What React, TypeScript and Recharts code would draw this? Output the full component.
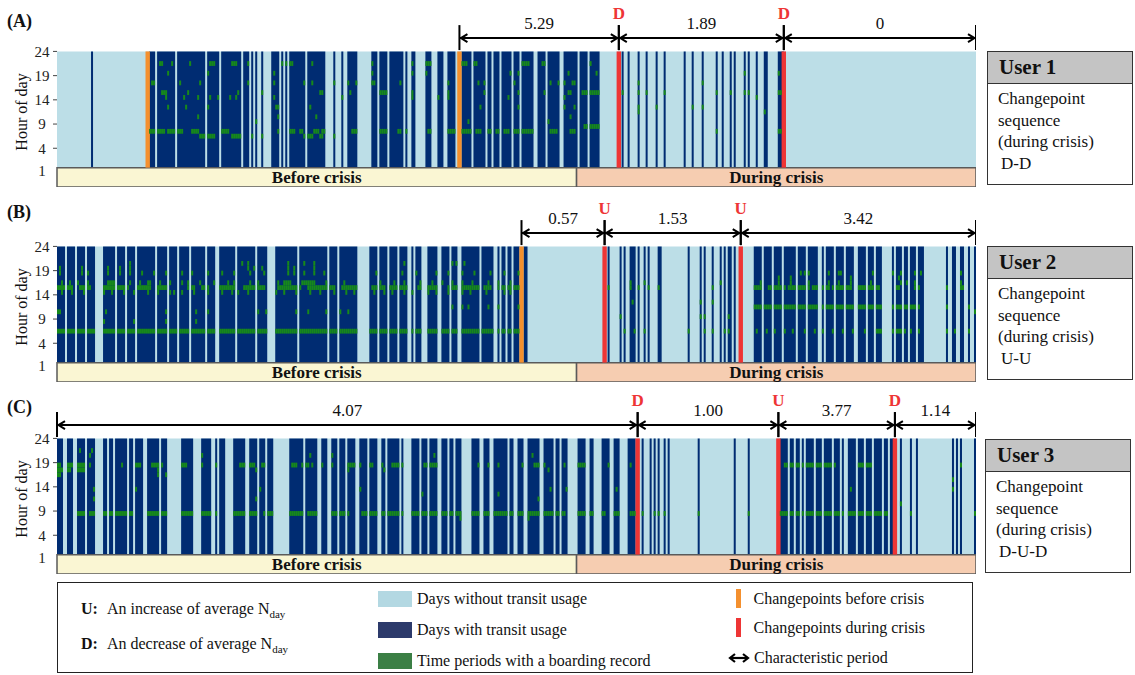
import React from "react";
import { ComposedChart, Area, Scatter, XAxis, YAxis, ReferenceArea, ReferenceLine } from "recharts";

type Run = [number, number];
type Rec = [number, number, number]; // [hour, fromDay, toDay]
type Changepoint = { day: number; phase: "before" | "during"; kind?: "U" | "D" };
type Period = { from: number; to: number; label: string };

const DAYS = 459;
const CRISIS_DAY = 259.5;
const HOUR_TICKS = [1, 4, 9, 14, 19, 24];
const PHASES = [
  { name: "Before crisis", from: 0, to: CRISIS_DAY, fill: "#faf6d3" },
  { name: "During crisis", from: CRISIS_DAY, to: DAYS, fill: "#f6cdb1" },
];

const LIGHT = "#bcdee7";
const NAVY = "#002c72";
const GREEN = "#17891a";
const ORANGE = "#f4902e";
const RED = "#ee3535";
const SERIF = '"Liberation Serif", "Times New Roman", serif';

// ---- user 1 ----
const u1Usage: Run[] = [
  [17, 17], [46, 48], [50, 58], [60, 73], [75, 80], [82, 91], [93, 95], [97, 97], [99, 99], [102, 102],
  [107, 110], [112, 112], [114, 114], [116, 123], [125, 133], [138, 138], [142, 142], [145, 149],
  [157, 159], [161, 164], [166, 172], [174, 174], [177, 178], [184, 186], [190, 192], [195, 198],
  [202, 206], [208, 213], [215, 216], [218, 220], [222, 226], [228, 230], [232, 237], [240, 243],
  [245, 250], [253, 259], [261, 264], [266, 270], [282, 282], [285, 285], [290, 290], [294, 294],
  [299, 299], [303, 303], [313, 313], [317, 317], [322, 322], [329, 329], [332, 332], [336, 336],
  [338, 338], [343, 343], [345, 345], [349, 349], [353, 354], [360, 362],
];
const u1Records: Rec[] = [
  [8, 46, 53], [8, 55, 58], [8, 60, 62], [8, 67, 70], [8, 82, 85], [8, 110, 110], [8, 116, 118], [8, 121, 122],
  [8, 128, 130], [8, 132, 133], [8, 147, 149], [8, 161, 164], [8, 170, 171], [8, 174, 174], [8, 185, 186],
  [8, 195, 198], [8, 202, 206], [8, 209, 211], [8, 215, 216], [8, 219, 220], [8, 223, 225], [8, 228, 230],
  [8, 232, 237], [8, 246, 249], [8, 256, 258], [8, 329, 329], [8, 360, 361],
  [9, 263, 264], [9, 266, 270],
  [7, 71, 78], [7, 87, 91], [7, 97, 97], [7, 102, 102], [7, 123, 127], [7, 131, 132], [7, 138, 138],
  [22, 51, 52], [22, 57, 57], [22, 66, 66], [22, 76, 78], [22, 87, 89], [22, 95, 95], [22, 112, 112],
  [22, 114, 114], [22, 116, 117], [22, 127, 127], [22, 157, 157], [22, 177, 177], [22, 184, 186],
  [22, 202, 204], [22, 208, 209], [22, 232, 235], [22, 242, 243], [22, 266, 266],
  [20, 55, 55], [20, 75, 75], [20, 108, 108], [20, 157, 157], [20, 177, 177], [20, 184, 184], [20, 226, 226],
  [20, 230, 230], [20, 255, 255], [20, 269, 269], [20, 343, 343], [20, 360, 360],
  [18, 47, 48], [18, 61, 61], [18, 71, 71], [18, 95, 95], [18, 108, 108], [18, 123, 123], [18, 127, 127],
  [18, 138, 138], [18, 145, 145], [18, 149, 149], [18, 157, 158], [18, 171, 171], [18, 195, 195],
  [18, 210, 210], [18, 213, 213], [18, 228, 228], [18, 246, 246], [18, 250, 250], [18, 253, 253],
  [18, 257, 258], [18, 290, 290], [18, 322, 322],
  [16, 52, 54], [16, 65, 65], [16, 90, 90], [16, 102, 102], [16, 131, 132], [16, 146, 146], [16, 161, 164],
  [16, 177, 177], [16, 195, 195], [16, 213, 213], [16, 230, 230], [16, 243, 243], [16, 255, 256],
  [16, 262, 270], [16, 282, 282], [16, 290, 290], [16, 294, 294], [16, 303, 303], [16, 329, 329],
  [16, 336, 336], [16, 343, 343], [16, 345, 345], [16, 360, 361],
  [15, 54, 54], [15, 63, 63], [15, 70, 70], [15, 76, 76], [15, 80, 80], [15, 86, 86], [15, 89, 89],
  [15, 108, 108], [15, 142, 142], [15, 177, 177], [15, 190, 190], [15, 195, 195], [15, 225, 225],
  [15, 253, 253], [15, 349, 349],
  [13, 55, 55], [13, 64, 64], [13, 75, 75], [13, 109, 110], [13, 126, 126], [13, 211, 211], [13, 230, 230],
  [13, 253, 253], [13, 258, 258], [13, 290, 290], [13, 299, 299], [13, 317, 317], [13, 322, 322],
  [12, 290, 290], [12, 353, 353],
  [11, 70, 70], [11, 110, 110], [11, 129, 129], [11, 165, 165], [11, 256, 256],
  [10, 99, 99], [10, 205, 205], [10, 245, 245],
];
const u1Changepoints: Changepoint[] = [
  { day: 45.3, phase: "before" },
  { day: 201, phase: "before" },
  { day: 280.6, phase: "during", kind: "D" },
  { day: 363, phase: "during", kind: "D" },
];
const u1Periods: Period[] = [
  { from: 201, to: 280.6, label: "5.29" },
  { from: 280.6, to: 363, label: "1.89" },
  { from: 363, to: DAYS, label: "0" },
];

// ---- user 2 ----
const u2Usage: Run[] = [
  [0, 3], [5, 8], [10, 13], [15, 18], [23, 28], [30, 33], [35, 38], [40, 48], [50, 54], [56, 59], [61, 65],
  [67, 73], [75, 78], [81, 88], [90, 98], [100, 104], [109, 119], [121, 134], [136, 139], [141, 149],
  [156, 159], [161, 164], [166, 169], [171, 174], [177, 177], [179, 181], [185, 189], [192, 195],
  [197, 199], [202, 210], [212, 217], [220, 220], [222, 223], [225, 226], [228, 230], [233, 234],
  [275, 275], [281, 281], [283, 283], [286, 288], [290, 290], [293, 293], [295, 295], [300, 301],
  [315, 315], [321, 321], [323, 323], [327, 327], [331, 331], [333, 333], [335, 336], [338, 338],
  [348, 351], [353, 356], [358, 361], [363, 368], [370, 373], [375, 379], [382, 382], [384, 387],
  [389, 392], [394, 397], [400, 403], [405, 407], [409, 411], [417, 417], [419, 421], [423, 424],
  [426, 428], [430, 432], [444, 444], [447, 448], [451, 452], [455, 455], [458, 458],
];
const u2Records: Rec[] = [
  [7, 0, 98], [7, 100, 104], [7, 109, 149], [7, 156, 230], [7, 283, 283], [7, 288, 288], [7, 293, 293],
  [7, 315, 315], [7, 323, 323], [7, 327, 327], [7, 333, 333], [7, 335, 335], [7, 349, 349], [7, 354, 354],
  [7, 358, 358], [7, 363, 363], [7, 367, 367], [7, 373, 373], [7, 378, 378], [7, 382, 382], [7, 387, 387],
  [7, 392, 392], [7, 397, 397], [7, 403, 403], [7, 409, 411], [7, 417, 417], [7, 419, 423], [7, 426, 426],
  [7, 430, 430], [7, 444, 444], [7, 448, 448], [7, 455, 455],
  [16, 0, 7], [16, 11, 16], [16, 20, 35], [16, 40, 46], [16, 50, 55], [16, 65, 68], [16, 72, 75],
  [16, 81, 88], [16, 93, 103], [16, 110, 121], [16, 125, 138], [16, 142, 150], [16, 157, 163],
  [16, 166, 176], [16, 180, 190], [16, 195, 205], [16, 206, 210], [16, 213, 216], [16, 220, 230],
  [16, 275, 275], [16, 286, 286], [16, 290, 290], [16, 295, 295], [16, 300, 300], [16, 327, 327],
  [16, 348, 351], [16, 355, 363], [16, 365, 375], [16, 377, 385], [16, 387, 396], [16, 400, 410],
  [16, 418, 420], [16, 428, 430], [16, 444, 444], [16, 451, 452],
  [17, 2, 2], [17, 6, 6], [17, 10, 10], [17, 15, 15], [17, 25, 28], [17, 36, 36], [17, 41, 41], [17, 45, 46],
  [17, 51, 51], [17, 56, 56], [17, 62, 62], [17, 65, 65], [17, 71, 71], [17, 78, 78], [17, 85, 85],
  [17, 88, 88], [17, 96, 96], [17, 100, 100], [17, 110, 110], [17, 113, 116], [17, 122, 128], [17, 134, 134],
  [17, 143, 143], [17, 161, 161], [17, 168, 168], [17, 173, 173], [17, 181, 181], [17, 187, 187],
  [17, 192, 192], [17, 197, 197], [17, 202, 202], [17, 207, 207], [17, 215, 215], [17, 220, 220],
  [17, 226, 226], [17, 286, 286], [17, 293, 293], [17, 331, 331], [17, 351, 351], [17, 360, 360],
  [17, 366, 366], [17, 375, 375], [17, 385, 385], [17, 390, 390], [17, 396, 396], [17, 406, 406],
  [17, 421, 421], [17, 424, 424], [17, 428, 428], [17, 451, 451],
  [15, 2, 2], [15, 7, 7], [15, 13, 13], [15, 23, 23], [15, 27, 27], [15, 33, 33], [15, 38, 38], [15, 45, 45],
  [15, 50, 50], [15, 56, 56], [15, 58, 58], [15, 62, 62], [15, 68, 68], [15, 75, 75], [15, 82, 82],
  [15, 87, 87], [15, 90, 90], [15, 95, 95], [15, 109, 109], [15, 113, 113], [15, 119, 119], [15, 126, 126],
  [15, 131, 131], [15, 138, 138], [15, 144, 144], [15, 148, 148], [15, 158, 158], [15, 163, 163],
  [15, 167, 167], [15, 173, 173], [15, 177, 177], [15, 185, 185], [15, 189, 189], [15, 195, 195],
  [15, 202, 202], [15, 206, 206], [15, 214, 214], [15, 223, 223], [15, 226, 226],
  [19, 1, 1], [19, 12, 12], [19, 15, 15], [19, 25, 25], [19, 31, 31], [19, 36, 36], [19, 42, 42], [19, 48, 48],
  [19, 54, 54], [19, 62, 62], [19, 67, 67], [19, 75, 75], [19, 82, 82], [19, 88, 88], [19, 96, 96],
  [19, 103, 103], [19, 115, 115], [19, 118, 118], [19, 123, 123], [19, 128, 128], [19, 133, 133],
  [19, 159, 159], [19, 172, 172], [19, 179, 179], [19, 189, 189], [19, 195, 195], [19, 202, 202],
  [19, 208, 208], [19, 216, 216], [19, 223, 223], [19, 230, 230], [19, 371, 371], [19, 373, 373],
  [19, 375, 375], [19, 385, 385], [19, 390, 391], [19, 407, 407], [19, 417, 417], [19, 421, 421],
  [19, 428, 428], [19, 431, 431], [19, 451, 451],
  [20, 1, 1], [20, 12, 12], [20, 25, 25], [20, 31, 31], [20, 36, 36], [20, 95, 95], [20, 98, 98],
  [20, 102, 102], [20, 115, 115], [20, 118, 118], [20, 128, 128],
  [21, 36, 36], [21, 92, 92], [21, 95, 95], [21, 115, 115], [21, 123, 123], [21, 128, 128], [21, 173, 173],
  [21, 197, 197], [21, 199, 199], [21, 203, 203],
  [18, 360, 360], [18, 366, 366], [18, 396, 396], [18, 420, 420],
  [12, 197, 197], [12, 202, 202], [12, 205, 205], [12, 215, 215], [12, 220, 220], [12, 230, 230],
  [12, 348, 411], [12, 417, 430], [12, 444, 446], [12, 455, 455],
  [13, 287, 287], [13, 321, 321], [13, 327, 327],
  [11, 0, 1], [11, 24, 24], [11, 54, 54], [11, 69, 69], [11, 75, 75], [11, 100, 100], [11, 104, 104],
  [11, 119, 119], [11, 125, 125], [11, 134, 134], [11, 141, 141], [11, 145, 145], [11, 458, 458],
  [10, 281, 281], [10, 321, 321], [10, 323, 323], [10, 335, 335],
  [9, 23, 23], [9, 38, 38], [9, 54, 54], [9, 69, 69],
];
const u2Changepoints: Changepoint[] = [
  { day: 232, phase: "before" },
  { day: 273.5, phase: "during", kind: "U" },
  { day: 341.5, phase: "during", kind: "U" },
];
const u2Periods: Period[] = [
  { from: 232, to: 273.5, label: "0.57" },
  { from: 273.5, to: 341.5, label: "1.53" },
  { from: 341.5, to: DAYS, label: "3.42" },
];

// ---- user 3 ----
const u3Usage: Run[] = [
  [0, 2], [5, 7], [10, 13], [15, 18], [23, 24], [26, 27], [29, 31], [32, 34], [36, 37], [39, 42], [45, 50],
  [52, 54], [62, 67], [72, 76], [79, 79], [81, 83], [88, 93], [96, 99], [101, 103], [105, 107], [116, 122],
  [124, 129], [132, 134], [137, 139], [141, 143], [145, 148], [151, 154], [156, 159], [162, 163],
  [165, 170], [172, 172], [177, 180], [182, 184], [186, 189], [192, 194], [196, 197], [199, 201],
  [207, 210], [213, 215], [218, 224], [226, 227], [230, 232], [235, 240], [243, 247], [249, 250],
  [252, 254], [260, 263], [266, 267], [272, 275], [278, 280], [285, 288],
  [292, 292], [296, 296], [298, 298], [300, 300], [303, 303], [305, 305], [320, 320], [338, 338], [345, 345],
  [361, 364], [366, 367], [369, 370], [372, 372], [374, 377], [379, 381], [383, 386], [388, 390],
  [392, 392], [395, 398], [400, 402], [404, 406], [408, 411], [413, 414], [416, 417],
  [421, 421], [426, 426], [429, 429], [447, 447], [449, 449], [451, 451], [458, 458],
];
const u3Records: Rec[] = [
  [9, 10, 13], [9, 16, 18], [9, 23, 38], [9, 45, 54], [9, 62, 67], [9, 72, 79], [9, 88, 99], [9, 103, 107],
  [9, 116, 122], [9, 125, 129], [9, 136, 145], [9, 152, 172], [9, 177, 253], [9, 255, 273], [9, 276, 280],
  [9, 286, 295], [9, 298, 300], [9, 303, 303], [9, 320, 320], [9, 345, 345], [9, 361, 415], [9, 426, 426],
  [9, 458, 458],
  [8, 201, 201], [8, 204, 204], [8, 235, 235],
  [19, 0, 1], [19, 5, 7], [19, 10, 13], [19, 16, 16], [19, 32, 32], [19, 39, 41], [19, 47, 50], [19, 52, 52],
  [19, 62, 64], [19, 72, 72], [19, 79, 79], [19, 91, 93], [19, 96, 98], [19, 102, 103], [19, 117, 119],
  [19, 122, 122], [19, 124, 125], [19, 127, 127], [19, 132, 132], [19, 137, 137], [19, 145, 148],
  [19, 151, 151], [19, 156, 157], [19, 162, 162], [19, 167, 170], [19, 172, 172], [19, 183, 184],
  [19, 186, 189], [19, 210, 210], [19, 215, 215], [19, 220, 220], [19, 228, 228], [19, 232, 232],
  [19, 238, 240], [19, 243, 243], [19, 253, 253], [19, 260, 263], [19, 275, 275], [19, 286, 286],
  [19, 363, 388], [19, 400, 406], [19, 415, 415], [19, 451, 451],
  [18, 0, 2], [18, 5, 6], [18, 10, 13], [18, 50, 50], [18, 99, 99], [18, 145, 145], [18, 163, 163],
  [18, 245, 245],
  [17, 0, 1], [17, 50, 50], [17, 54, 54],
  [22, 11, 11], [22, 17, 17],
  [21, 16, 16], [21, 72, 72], [21, 126, 126], [21, 137, 137], [21, 188, 188], [21, 203, 203], [21, 237, 237],
  [14, 18, 18], [14, 39, 39], [14, 101, 101], [14, 151, 151], [14, 246, 246], [14, 254, 254],
  [14, 279, 279], [14, 396, 396], [14, 447, 447],
  [16, 447, 447],
  [13, 182, 182], [13, 220, 220],
  [12, 18, 18], [12, 99, 99], [12, 240, 240],
  [11, 421, 421],
];
const u3Changepoints: Changepoint[] = [
  { day: 290, phase: "during", kind: "D" },
  { day: 360.3, phase: "during", kind: "U" },
  { day: 418.5, phase: "during", kind: "D" },
];
const u3Periods: Period[] = [
  { from: 0, to: 290, label: "4.07" },
  { from: 290, to: 360.3, label: "1.00" },
  { from: 360.3, to: 418.5, label: "3.77" },
  { from: 418.5, to: DAYS, label: "1.14" },
];

const buildDays = (usage: Run[]) => {
  const used = new Set<number>();
  usage.forEach(([a, b]) => {
    for (let d = a; d <= b; d++) used.add(d);
  });
  const rows = [];
  for (let d = 0; d <= DAYS; d++) rows.push({ day: d, bg: 24, used: d < DAYS && used.has(d) ? 24 : 0 });
  return { rows, used };
};

const buildCells = (records: Rec[], used: Set<number>) =>
  records.flatMap(([hour, a, b]) => {
    const out: { day: number; hour: number }[] = [];
    for (let d = a; d <= b; d++) if (used.has(d)) out.push({ day: d + 0.5, hour: hour - 0.5 });
    return out;
  });

const HourTick = (props: any) => {
  const { x, y, payload } = props;
  if (payload.value === 1) {
    return (
      <text x={x - 11} y={y + 8} dy="0.35em" textAnchor="middle" fontSize={15} fill="#222" fontFamily={SERIF}>
        1
      </text>
    );
  }
  return (
    <g>
      <line x1={x} x2={x + 4} y1={y} y2={y} stroke="#444" strokeWidth={1} />
      <text x={x - 11} y={y} dy="0.35em" textAnchor="middle" fontSize={15} fill="#222" fontFamily={SERIF}>
        {payload.value}
      </text>
    </g>
  );
};

const periodShape = (label: string) => (p: any) => {
  const { x1, x2, y1 } = p;
  const y = y1;
  return (
    <g>
      <line x1={x1} x2={x2} y1={y} y2={y} stroke="#000" strokeWidth={2} />
      <polyline points={`${x1 + 8},${y - 4} ${x1 + 1.5},${y} ${x1 + 8},${y + 4}`} fill="none" stroke="#000" strokeWidth={2} />
      <polyline points={`${x2 - 8},${y - 4} ${x2 - 1.5},${y} ${x2 - 8},${y + 4}`} fill="none" stroke="#000" strokeWidth={2} />
      <line x1={x1} x2={x1} y1={y - 13} y2={y + 12} stroke="#000" strokeWidth={2} />
      <line x1={x2} x2={x2} y1={y - 13} y2={y + 12} stroke="#000" strokeWidth={2} />
      <text x={(x1 + x2) / 2} y={y - 9} textAnchor="middle" fontSize={17} fill="#111" fontFamily={SERIF}>
        {label}
      </text>
    </g>
  );
};

const cpShape = (cp: Changepoint) => (p: any) => {
  const { x1, y1, y2 } = p;
  const top = Math.min(y1, y2);
  const bottom = Math.max(y1, y2);
  return (
    <g>
      <rect x={x1 - 2.2} y={top} width={4.4} height={bottom - top} fill={cp.phase === "before" ? ORANGE : RED} />
      {cp.kind && (
        <text x={x1} y={top - 38} dy="0.35em" textAnchor="middle" fontSize={17} fontWeight={700} fill={RED} fontFamily={SERIF}>
          {cp.kind}
        </text>
      )}
    </g>
  );
};

const GreenCell = (p: any) => <rect x={p.cx - 1} y={p.cy - 2.4} width={2} height={4.8} fill={GREEN} />;

interface PanelProps {
  top: number;
  tag: string;
  tagTop: number;
  usage: Run[];
  records: Rec[];
  changepoints: Changepoint[];
  periods: Period[];
}

const UserPanel = ({ top, tag, tagTop, usage, records, changepoints, periods }: PanelProps) => {
  const { rows, used } = buildDays(usage);
  const cells = buildCells(records, used);
  return (
    <>
      <div style={{ position: "absolute", left: 7, top: tagTop - 11, fontSize: 18, fontWeight: 700 }}>({tag})</div>
      <div
        style={{
          position: "absolute",
          left: 22 - 50,
          top: top + 109 - 10,
          width: 100,
          height: 20,
          lineHeight: "20px",
          textAlign: "center",
          fontSize: 16,
          transform: "rotate(-90deg)",
        }}
      >
        Hour of day
      </div>
      <div style={{ position: "absolute", left: 0, top }}>
        <ComposedChart width={976} height={184} data={rows} margin={{ top: 0, right: 0, bottom: 0, left: 0 }}>
          <XAxis type="number" dataKey="day" domain={[0, DAYS]} hide allowDataOverflow />
          <YAxis
            type="number"
            domain={[-4, 34]}
            ticks={HOUR_TICKS}
            interval={0}
            width={57}
            axisLine={false}
            tickLine={false}
            tickSize={4}
            tickMargin={0}
            tick={<HourTick />}
            allowDataOverflow
          />
          <Area type="stepAfter" dataKey="bg" stroke="none" fill={LIGHT} fillOpacity={1} baseValue={0} isAnimationActive={false} />
          <Area type="stepAfter" dataKey="used" stroke="none" fill={NAVY} fillOpacity={1} baseValue={0} isAnimationActive={false} />
          <Scatter data={cells} dataKey="hour" shape={GreenCell} isAnimationActive={false} />
          {PHASES.map((ph) => (
            <ReferenceArea
              key={ph.name}
              x1={ph.from}
              x2={ph.to}
              y1={-4}
              y2={0}
              fill={ph.fill}
              fillOpacity={1}
              stroke="#5a5a5a"
              strokeWidth={1.5}
              ifOverflow="visible"
              label={{ value: ph.name, position: "center", fontSize: 17, fontWeight: 700, fill: "#111", fontFamily: SERIF }}
            />
          ))}
          {changepoints.map((cp) => (
            <ReferenceLine
              key={`cp-${cp.day}`}
              segment={[{ x: cp.day, y: 0 }, { x: cp.day, y: 24 }]}
              shape={cpShape(cp)}
              ifOverflow="visible"
            />
          ))}
          {periods.map((pd) => (
            <ReferenceLine
              key={`pd-${pd.from}`}
              segment={[{ x: pd.from, y: 26.75 }, { x: pd.to, y: 26.75 }]}
              shape={periodShape(pd.label)}
              ifOverflow="visible"
            />
          ))}
        </ComposedChart>
      </div>
    </>
  );
};

const UserBox = ({ left, top, height, name, seq }: { left: number; top: number; height: number; name: string; seq: string }) => (
  <div
    style={{
      position: "absolute",
      left,
      top,
      width: 146,
      height,
      border: "1.5px solid #333",
      boxSizing: "border-box",
      background: "#fff",
    }}
  >
    <div
      style={{
        background: "#c4c4c4",
        height: 31,
        borderBottom: "1.5px solid #333",
        fontWeight: 700,
        fontSize: 21,
        paddingLeft: 11,
        lineHeight: "31px",
      }}
    >
      {name}
    </div>
    <div style={{ padding: "4px 0 0 10px", fontSize: 17, lineHeight: "21.7px" }}>
      Changepoint
      <br />
      sequence
      <br />
      (during crisis)
      <br />
      <span style={{ paddingLeft: 3 }}>{seq}</span>
    </div>
  </div>
);

const Nday = () => (
  <span>
    N<sub style={{ fontSize: 11, verticalAlign: "-4px" }}>day</sub>
  </span>
);

const Legend = () => (
  <div
    style={{
      position: "absolute",
      left: 57,
      top: 582,
      width: 916,
      height: 91,
      border: "1.5px solid #222",
      boxSizing: "border-box",
      fontSize: 16,
    }}
  >
    <div style={{ position: "absolute", left: 23, top: 17, whiteSpace: "nowrap" }}>
      <b>U:</b>
      <span style={{ marginLeft: 9 }}>An increase of average </span>
      <Nday />
    </div>
    <div style={{ position: "absolute", left: 23, top: 52, whiteSpace: "nowrap" }}>
      <b>D:</b>
      <span style={{ marginLeft: 9 }}>An decrease of average </span>
      <Nday />
    </div>
    {[
      { color: "#b3d8e2", text: "Days without transit usage", top: 7 },
      { color: "#2c3a6b", text: "Days with transit usage", top: 38 },
      { color: "#3b7f45", text: "Time periods with a boarding record", top: 69 },
    ].map((it) => (
      <div key={it.text} style={{ position: "absolute", left: 320, top: it.top, display: "flex", alignItems: "center", whiteSpace: "nowrap" }}>
        <div style={{ width: 34, height: 16, background: it.color, marginRight: 5 }} />
        <span>{it.text}</span>
      </div>
    ))}
    {[
      { color: ORANGE, text: "Changepoints before crisis", top: 6 },
      { color: RED, text: "Changepoints during crisis", top: 35 },
    ].map((it) => (
      <div key={it.text} style={{ position: "absolute", left: 678, top: it.top, display: "flex", alignItems: "center", whiteSpace: "nowrap" }}>
        <div style={{ width: 4.5, height: 19, background: it.color, marginRight: 13 }} />
        <span>{it.text}</span>
      </div>
    ))}
    <div style={{ position: "absolute", left: 670, top: 66, display: "flex", alignItems: "center", whiteSpace: "nowrap" }}>
      <svg width={22} height={12} style={{ marginRight: 4 }}>
        <line x1={2} x2={20} y1={6} y2={6} stroke="#000" strokeWidth={2.2} />
        <polyline points="7,2 2,6 7,10" fill="none" stroke="#000" strokeWidth={2.2} />
        <polyline points="15,2 20,6 15,10" fill="none" stroke="#000" strokeWidth={2.2} />
      </svg>
      <span>Characteristic period</span>
    </div>
  </div>
);

export default function App() {
  return (
    <div
      style={{
        position: "absolute",
        left: 0,
        top: 0,
        width: 1135,
        height: 675,
        background: "#fff",
        fontFamily: SERIF,
        color: "#111",
        overflow: "hidden",
      }}
    >
      <UserPanel top={3} tag="A" tagTop={22} usage={u1Usage} records={u1Records} changepoints={u1Changepoints} periods={u1Periods} />
      <UserPanel top={198} tag="B" tagTop={213} usage={u2Usage} records={u2Records} changepoints={u2Changepoints} periods={u2Periods} />
      <UserPanel top={390} tag="C" tagTop={408} usage={u3Usage} records={u3Records} changepoints={u3Changepoints} periods={u3Periods} />
      <UserBox left={987} top={51} height={134} name="User 1" seq="D-D" />
      <UserBox left={987} top={246} height={134} name="User 2" seq="U-U" />
      <UserBox left={985} top={439} height={134} name="User 3" seq="D-U-D" />
      <Legend />
    </div>
  );
}
